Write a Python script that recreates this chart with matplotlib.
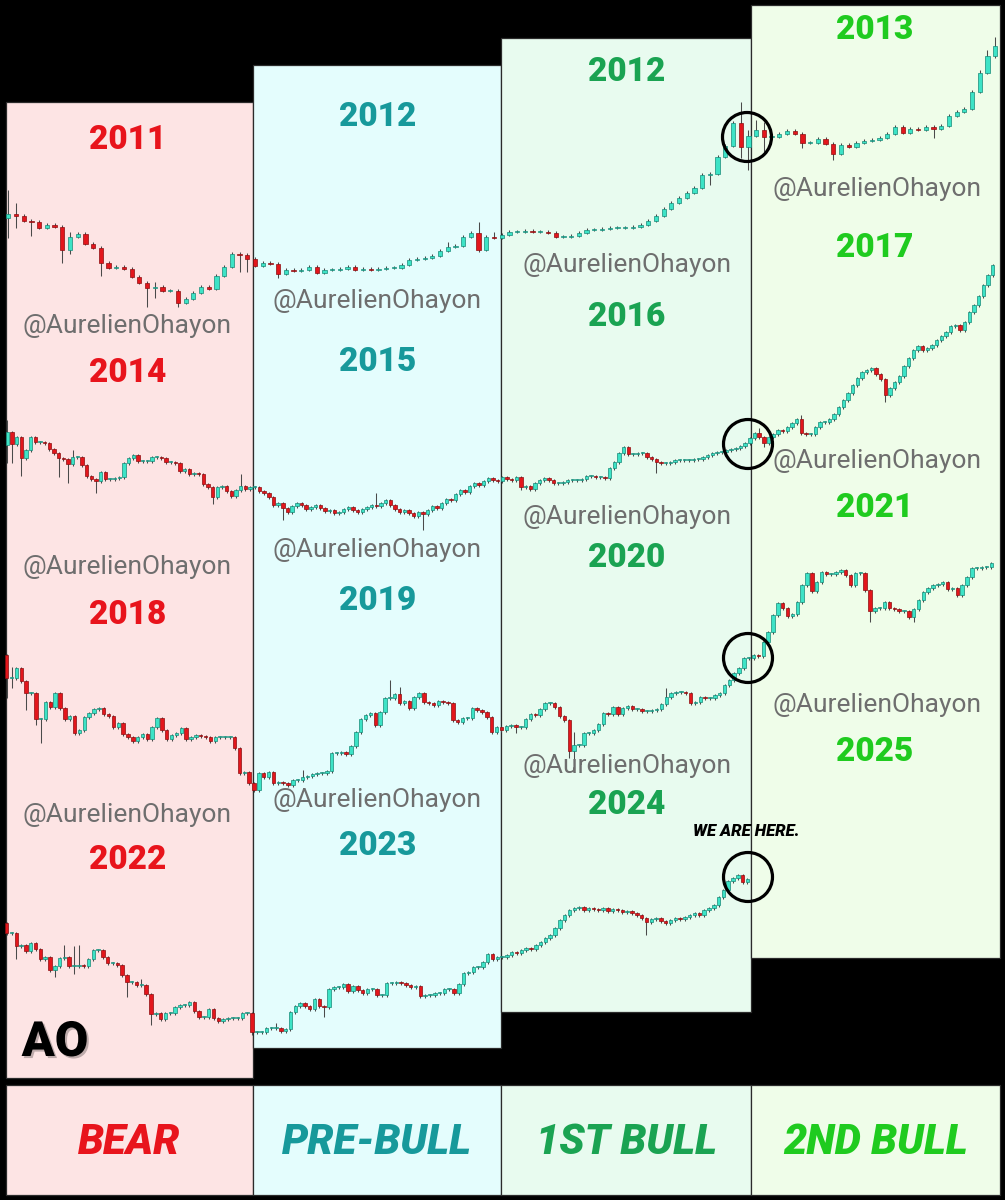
import numpy as np
import matplotlib.pyplot as plt
from matplotlib.patches import Rectangle, Circle
import matplotlib.patheffects as pe

plt.rcParams['font.family'] = ['Roboto', 'DejaVu Sans']

# Weekly closes, one list per yearly panel (arbitrary price units)
# row 1: 2011 / 2012 / 2012 / 2013
y2011 = [106, 104, 99, 98, 92, 95, 93, 70, 83, 86, 76, 72, 57, 52, 53, 51, 43, 37, 32, 33,
         29, 29, 17, 21, 27, 33, 31, 44, 53, 66, 65, 61]
y2012a = [54, 57, 56, 46, 50, 49, 50, 53, 47, 50, 50, 51, 53, 50, 51, 50, 51, 52, 52, 55,
          60, 61, 62, 64, 69, 73, 74, 83, 87, 70, 83, 82, 85]
y2012b = [88, 88, 89, 88, 88, 87, 83, 83, 84, 87, 90, 90, 91, 92, 92, 92, 93, 95, 99, 104,
          111, 117, 122, 127, 132, 145, 146, 163, 174, 197, 173, 184, 190]
y2013 = [183, 183, 186, 189, 186, 177, 177, 181, 176, 166, 175, 173, 177, 179, 180, 182, 186,
         193, 187, 191, 190, 193, 191, 194, 204, 208, 211, 228, 247, 264, 274]

# row 2: 2014 / 2015 / 2016 / 2017
y2014 = [108, 96, 103, 82, 90, 103, 98, 98, 97, 91, 87, 82, 81, 76, 83, 83, 75, 64, 61, 59,
         68, 61, 61, 62, 63, 77, 82, 85, 79, 79, 79, 83, 83, 82, 78, 78, 77, 69, 71, 66,
         67, 66, 56, 53, 43, 53, 54, 49, 44, 50, 54, 51, 53]
y2015 = [53, 49, 47, 43, 35, 37, 32, 28, 34, 37, 35, 31, 33, 35, 32, 29, 30, 27, 28, 31,
         33, 30, 28, 31, 33, 35, 34, 37, 40, 35, 31, 28, 30, 27, 24, 28, 26, 30, 34, 32,
         37, 41, 40, 46, 50, 48, 54, 57, 55, 59, 62, 60, 59]
y2016 = [63, 61, 60, 63, 53, 54, 51, 57, 60, 62, 60, 57, 57, 58, 60, 60, 60, 61, 64, 64,
         63, 63, 62, 72, 78, 87, 93, 86, 86, 87, 87, 83, 81, 78, 77, 77, 78, 80, 80, 80,
         80, 81, 81, 83, 85, 87, 88, 88, 90, 91, 92, 94, 97, 102]
y2017 = [107, 103, 97, 103, 106, 110, 109, 113, 117, 121, 107, 106, 106, 113, 118, 118, 121,
         126, 133, 140, 147, 155, 162, 168, 170, 172, 166, 161, 145, 152, 158, 164, 174, 182,
         190, 194, 190, 192, 195, 200, 204, 208, 214, 215, 210, 218, 228, 235, 244, 255, 265, 275]

# row 3: 2018 / 2019 / 2020 / 2021
y2018 = [122, 122, 132, 119, 107, 107, 81, 81, 98, 93, 107, 92, 81, 84, 67, 70, 83, 87, 91, 92,
         86, 84, 73, 77, 66, 63, 59, 63, 66, 61, 73, 82, 70, 61, 65, 67, 72, 61, 63, 65,
         64, 63, 59, 63, 63, 63, 63, 52, 27, 28, 17]
y2019 = [10, 27, 23, 28, 17, 18, 17, 15, 20, 20, 23, 24, 26, 27, 27, 29, 47, 47, 48, 46,
         54, 68, 81, 85, 87, 75, 88, 102, 102, 106, 97, 99, 92, 103, 107, 98, 97, 95, 99, 98,
         97, 80, 78, 82, 82, 92, 90, 88, 83, 68, 73]
y2020 = [70, 74, 75, 73, 73, 81, 86, 85, 91, 97, 97, 93, 84, 80, 49, 55, 55, 67, 67, 70,
         76, 87, 86, 93, 86, 92, 94, 91, 91, 89, 89, 90, 91, 96, 103, 107, 108, 108, 107, 97,
         98, 103, 102, 102, 105, 107, 115, 120, 127, 132, 142, 142]
y2021 = [145, 144, 158, 168, 185, 197, 192, 184, 186, 198, 215, 227, 209, 218, 228, 226, 226,
         228, 230, 225, 215, 227, 227, 210, 189, 192, 192, 198, 192, 191, 189, 189, 183, 191,
         200, 208, 212, 215, 216, 218, 211, 212, 205, 215, 223, 232, 232, 233, 233, 237]

# row 4: 2022 / 2023 / 2024 / 2025
y2022 = [112, 112, 99, 100, 94, 102, 96, 86, 88, 75, 79, 87, 88, 79, 79, 80, 79, 86, 95, 95,
         88, 82, 82, 80, 70, 63, 63, 60, 60, 51, 31, 32, 26, 32, 32, 38, 40, 40, 43, 34,
         28, 28, 36, 27, 24, 26, 27, 27, 27, 32, 32, 13]
y2023 = [13, 13, 17, 17, 17, 14, 16, 33, 39, 42, 39, 36, 46, 39, 38, 56, 58, 58, 61, 54,
         59, 55, 52, 56, 56, 50, 50, 62, 62, 63, 62, 60, 58, 59, 49, 50, 50, 52, 52, 56,
         56, 52, 61, 72, 73, 78, 78, 83, 91, 86, 88]
y2024 = [88, 90, 93, 92, 95, 97, 96, 100, 103, 107, 110, 117, 125, 130, 135, 137, 138, 135,
         137, 136, 135, 137, 134, 136, 135, 133, 134, 132, 130, 127, 123, 126, 127, 124, 122,
         125, 127, 126, 128, 130, 132, 130, 135, 137, 140, 148, 155, 164, 167, 170, 163, 166]
y2025 = []

first_open = [102, 95, 145, 122]

# long wicks (candle index within the row -> high / low)
hi1 = {0: 130, 1: 117, 8: 88, 19: 38, 57: 78, 61: 98, 63: 88, 95: 218, 96: 190, 97: 200,
       98: 198, 126: 250, 127: 270, 128: 283}
lo1 = {0: 82, 1: 92, 3: 84, 7: 57, 8: 66, 12: 44, 18: 13, 19: 22, 22: 13, 30: 48, 31: 48,
       35: 42, 61: 68, 91: 135, 95: 162, 96: 150, 98: 168, 103: 172, 107: 160, 120: 182}
hi2 = {0: 120, 14: 90, 50: 66, 79: 47, 161: 112, 170: 125}
lo2 = {0: 77, 1: 77, 3: 64, 11: 63, 13: 57, 19: 47, 44: 36, 59: 20, 89: 10, 110: 50,
       139: 67, 162: 93, 188: 138}
hi3 = {1: 133, 61: 30, 79: 120, 81: 113, 117: 68, 136: 112}
lo3 = {0: 102, 1: 112, 4: 90, 6: 75, 7: 57, 105: 67, 116: 42, 117: 40, 178: 178, 187: 178}
hi4 = {12: 100, 14: 99, 15: 100, 28: 66, 56: 22}
lo4 = {2: 86, 10: 68, 14: 71, 25: 48, 30: 20, 51: 10, 66: 28, 133: 110}

rows = [[y2011, y2012a, y2012b, y2013], [y2014, y2015, y2016, y2017],
        [y2018, y2019, y2020, y2021], [y2022, y2023, y2024, y2025]]
row_years = [["2011", "2012", "2012", "2013"], ["2014", "2015", "2016", "2017"],
             ["2018", "2019", "2020", "2021"], ["2022", "2023", "2024", "2025"]]
wick_hi = [hi1, hi2, hi3, hi4]
wick_lo = [lo1, lo2, lo3, lo4]
phases = ["BEAR", "PRE-BULL", "1ST BULL", "2ND BULL"]

# ---- layout / styling ----
W, H = 1005, 1200
phase_col = ['#e8141c', '#17999b', '#1aa352', '#1fcb1f']
fills = ['#fde4e4', '#e4fdfd', '#e8fbef', '#effde9']
panel_x = [(6, 253), (253, 501), (501, 751), (751, 1000)]
panel_y = [(102, 1078), (65, 1048), (38, 1012), (5, 958)]
# per row: baseline pixel, height, first candle x, candle step, body width
row_geo = [(320, 320, 8.3, 7.71, 0.55), (540, 300, 7.3, 4.67, 0.72),
           (800, 260, 6.7, 4.85, 0.72), (1045, 200, 6.7, 4.81, 0.72)]
year_pos = [[(128, 140), (378, 117), (627, 72), (875, 30)],
            [(128, 373), (378, 362), (627, 317), (875, 248)],
            [(128, 615), (378, 601), (627, 558), (875, 508)],
            [(128, 860), (378, 846), (627, 805), (875, 752)]]
mark_pos = [[(127, 326), (377, 301), (627, 265), (877, 189)],
            [(127, 567), (377, 550), (627, 517), (877, 461)],
            [(127, 815), (377, 800), (627, 766), (877, 705)]]
circles = [(747, 137), (748, 444), (748, 658), (748, 877)]

UP, UP_EDGE = '#3de3c6', '#178a78'
DN, DN_EDGE = '#e3161c', '#8c0d10'

fig = plt.figure(figsize=(W / 100, H / 100), dpi=100, facecolor='black')

bg = fig.add_axes([0, 0, 1, 1])
bg.set_xlim(0, W)
bg.set_ylim(H, 0)
bg.axis('off')

for (x0, x1), (t, b), fc in zip(panel_x, panel_y, fills):
    bg.add_patch(Rectangle((x0, t), x1 - x0, b - t, facecolor=fc, edgecolor='#2b2b2b', lw=0.9))
    bg.add_patch(Rectangle((x0, 1085), x1 - x0, 110, facecolor=fc, edgecolor='#2b2b2b', lw=0.9))


def draw_row(series, op, hi, lo, geo):
    base, height, x0, step, width = geo
    ax = fig.add_axes([0, 1 - base / H, 1, height / H])
    ax.patch.set_alpha(0)
    ax.axis('off')
    c = np.concatenate([np.asarray(s, float) for s in series])
    o = np.concatenate([[op], c[:-1]])
    idx = np.arange(len(c))
    top = np.maximum(o, c)
    bot = np.minimum(o, c)
    h = np.maximum(top - bot, 1.0)
    whi = top + 1.5
    wlo = bot - 1.5
    for k, v in hi.items():
        whi[k] = v
    for k, v in lo.items():
        wlo[k] = v
    up = c >= o
    ax.vlines(idx, wlo, whi, color='#4a4a4a', lw=0.75, zorder=1)
    ax.bar(idx[up], h[up], width, bottom=bot[up], color=UP, edgecolor=UP_EDGE, lw=0.5, zorder=2)
    ax.bar(idx[~up], h[~up], width, bottom=bot[~up], color=DN, edgecolor=DN_EDGE, lw=0.5, zorder=2)
    ax.set_xlim(-x0 / step, (W - x0) / step)
    ax.set_ylim(0, height)


for r in range(4):
    draw_row(rows[r], first_open[r], wick_hi[r], wick_lo[r], row_geo[r])

top = fig.add_axes([0, 0, 1, 1])
top.patch.set_alpha(0)
top.set_xlim(0, W)
top.set_ylim(H, 0)
top.axis('off')

for r in range(4):
    for p in range(4):
        x, y = year_pos[r][p]
        top.text(x, y, row_years[r][p], color=phase_col[p], fontsize=24, fontweight='black',
                 ha='center', va='center')
for r in range(3):
    for p in range(4):
        x, y = mark_pos[r][p]
        top.text(x, y, "@AurelienOhayon", color='#6e6e6e', fontsize=19, ha='center', va='center')

for cx, cy in circles:
    top.add_patch(Circle((cx, cy), 24.5, fill=False, edgecolor='black', lw=2.3))

top.text(746, 831, "WE ARE HERE.", fontsize=12, fontweight='black', fontstyle='italic',
         ha='center', va='center', color='black')

top.text(55, 1043, "AO", fontsize=35, fontweight='black', ha='center', va='center', color='black',
         path_effects=[pe.withSimplePatchShadow(offset=(1.5, -1.5), alpha=0.25)])

for (x0, x1), name, col in zip(panel_x, phases, phase_col):
    top.text((x0 + x1) / 2, 1142, name, color=col, fontsize=30, fontweight='black',
             fontstyle='italic', ha='center', va='center')

fig.savefig('out.png', dpi=100, facecolor='black')
